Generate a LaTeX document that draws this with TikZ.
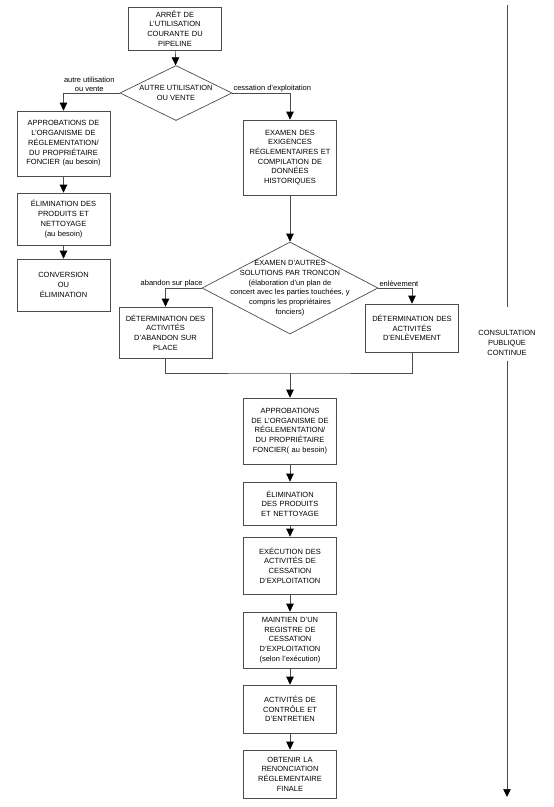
\documentclass[tikz,border=0pt]{standalone}
\usepackage{fontspec}
\setmainfont{Liberation Sans}
\usetikzlibrary{arrows.meta,shapes.geometric}
\tikzset{
  box/.style={draw=black!70, line width=0.7pt, text width=89pt, align=center, inner sep=2pt, font=\fontsize{7.5}{9.7}\selectfont},
  choice/.style={draw=black!70, line width=0.7pt, diamond, inner sep=0pt},
  txt/.style={align=center, inner sep=0pt, font=\fontsize{7.5}{9.7}\selectfont},
  lbl/.style={align=center, inner sep=1pt, font=\fontsize{7.5}{9}\selectfont},
  line/.style={draw=black!70, line width=0.7pt},
  flow/.style={line, -{Triangle[length=8pt,width=7.5pt,color=black]}},
}
\begin{document}
\begin{tikzpicture}[x=1pt,y=-1pt]
  \useasboundingbox (0,0) rectangle (554,807);

  % start and first choice
  \node[box, minimum height=43pt] (arret) at (175,28.5) {ARRÊT DE\\L'UTILISATION\\COURANTE DU\\PIPELINE};
  \node[choice, minimum width=112pt, minimum height=55pt] (choix) at (176,93) {};
  \node[txt] (choixtxt) at (choix.center) {AUTRE UTILISATION\\OU VENTE};

  % other use or sale
  \node[box, minimum height=65pt] (appro) at (63.5,143.5) {APPROBATIONS DE\\L'ORGANISME DE\\RÉGLEMENTATION/\\DU PROPRIÉTAIRE\\FONCIER (au besoin)};
  \node[box, minimum height=52pt] (elim) at (63.5,219) {ÉLIMINATION DES\\PRODUITS ET\\NETTOYAGE\\(au besoin)};
  \node[box, minimum height=52pt] (conv) at (63.5,285) {CONVERSION\\OU\\ÉLIMINATION};

  % abandonment
  \node[box, minimum height=75pt] (examen) at (290,157.5) {EXAMEN DES\\EXIGENCES\\RÉGLEMENTAIRES ET\\COMPILATION DE\\DONNÉES\\HISTORIQUES};
  \node[choice, minimum width=176pt, minimum height=92pt] (autres) at (290,288) {};
  \node[txt] (autrestxt) at (autres.center) {EXAMEN D'AUTRES\\SOLUTIONS PAR TRONCON\\(élaboration d'un plan de\\concert avec les parties touchées, y\\compris les propriétaires\\fonciers)};
  \node[box, minimum height=51pt] (abandon) at (165.5,332.5) {DÉTERMINATION DES\\ACTIVITÉS\\D'ABANDON SUR\\PLACE};
  \node[box, minimum height=48pt] (enlev) at (412,328) {DÉTERMINATION DES\\ACTIVITÉS\\D'ENLÈVEMENT};
  \coordinate (jonction) at (290,373);

  \node[box, minimum height=66pt] (appro2) at (290,431) {APPROBATIONS\\DE L'ORGANISME DE\\RÉGLEMENTATION/\\DU PROPRIÉTAIRE\\FONCIER( au besoin)};
  \node[box, minimum height=43pt] (elim2) at (290,503.5) {ÉLIMINATION\\DES PRODUITS\\ET NETTOYAGE};
  \node[box, minimum height=57pt] (exec) at (290,565.5) {EXÉCUTION DES\\ACTIVITÉS DE\\CESSATION\\D'EXPLOITATION};
  \node[box, minimum height=56pt] (registre) at (290,640) {MAINTIEN D'UN\\REGISTRE DE\\CESSATION\\D'EXPLOITATION\\(selon l'exécution)};
  \node[box, minimum height=48pt] (controle) at (290,709) {ACTIVITÉS DE\\CONTRÔLE ET\\D'ENTRETIEN};
  \node[box, minimum height=48pt] (renonc) at (290,774) {OBTENIR LA\\RENONCIATION\\RÉGLEMENTAIRE\\FINALE};

  % public consultation
  \coordinate (haut) at (507,5);
  \coordinate (bas) at (507,797);
  \node[txt, inner ysep=5pt] (consult) at (507,343) {CONSULTATION\\PUBLIQUE\\CONTINUE};

  % connectors
  \draw[flow] (arret) -- (choix);
  \draw[flow] (choix.west) -| (appro.north);
  \node[lbl, anchor=south east] (lautre) at ([xshift=-4pt]choix.west) {autre utilisation\\ou vente};
  \draw[flow] (choix.east) -| (examen.north);
  \node[lbl, anchor=south west] (lcess) at (choix.east) {cessation d'exploitation};
  \draw[flow] (appro) -- (elim);
  \draw[flow] (elim) -- (conv);

  \draw[flow] (examen) -- (autres);
  \draw[flow] (autres.west) -| (abandon.north);
  \node[lbl, anchor=south east] (lplace) at ([xshift=2pt]autres.west) {abandon sur place};
  \draw[flow] (autres.east) -| (enlev.north);
  \node[lbl, anchor=south west] (lenlev) at (autres.east) {enlèvement};
  \draw[line] (abandon.south) |- (jonction) -| (enlev.south);
  \draw[flow] (jonction) -- (appro2);

  \draw[flow] (appro2) -- (elim2);
  \draw[flow] (elim2) -- (exec);
  \draw[flow] (exec) -- (registre);
  \draw[flow] (registre) -- (controle);
  \draw[flow] (controle) -- (renonc);

  \draw[line] (haut) -- ([yshift=18pt]consult.north);
  \draw[flow] (consult.south) -- (bas);
\end{tikzpicture}
\end{document}
